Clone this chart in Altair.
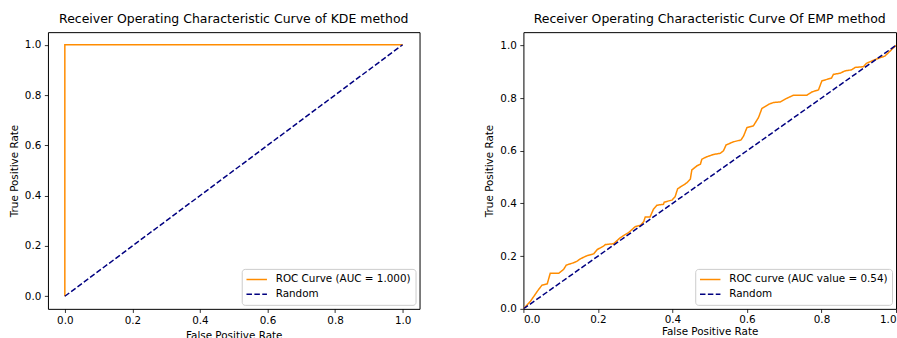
import altair as alt
import pandas as pd

# ---- data ----
kde_fpr = [0.0, 0.0, 1.0]
kde_tpr = [0.0, 1.0, 1.0]
rand_fpr = [0.0, 1.0]
rand_tpr = [0.0, 1.0]

emp_fpr = [0.0, 0.019, 0.041, 0.050, 0.064, 0.072, 0.095, 0.108, 0.115, 0.135, 0.144, 0.153,
           0.171, 0.189, 0.198, 0.215, 0.220, 0.242, 0.260, 0.269, 0.282, 0.300, 0.314, 0.323,
           0.327, 0.340, 0.349, 0.358, 0.376, 0.378, 0.399, 0.407, 0.414, 0.430, 0.439, 0.448,
           0.452, 0.466, 0.475, 0.479, 0.492, 0.510, 0.528, 0.537, 0.544, 0.564, 0.584, 0.591,
           0.600, 0.617, 0.631, 0.640, 0.658, 0.671, 0.689, 0.707, 0.725, 0.761, 0.774, 0.792,
           0.801, 0.827, 0.832, 0.850, 0.863, 0.881, 0.890, 0.913, 0.921, 0.939, 0.957, 0.970,
           0.984, 1.0]
emp_tpr = [0.0, 0.029, 0.074, 0.090, 0.095, 0.135, 0.135, 0.150, 0.166, 0.175, 0.181, 0.190,
           0.202, 0.209, 0.225, 0.238, 0.244, 0.247, 0.270, 0.278, 0.289, 0.312, 0.317, 0.331,
           0.349, 0.349, 0.378, 0.393, 0.397, 0.405, 0.413, 0.425, 0.456, 0.470, 0.479, 0.492,
           0.527, 0.543, 0.549, 0.568, 0.577, 0.586, 0.590, 0.600, 0.622, 0.634, 0.641, 0.656,
           0.688, 0.694, 0.726, 0.760, 0.776, 0.783, 0.785, 0.799, 0.811, 0.811, 0.823, 0.831,
           0.865, 0.876, 0.890, 0.894, 0.903, 0.907, 0.916, 0.919, 0.932, 0.943, 0.953, 0.959,
           0.978, 1.0]

kde_label = "ROC Curve (AUC = 1.000)"
emp_label = "ROC curve (AUC value = 0.54)"
rand_label = "Random"
tick_values = [0.0, 0.2, 0.4, 0.6, 0.8, 1.0]

kde_title = "Receiver Operating Characteristic Curve of KDE method"
emp_title = "Receiver Operating Characteristic Curve Of EMP method"

FONT = "DejaVu Sans"
FS = 10.4


def make_df(fpr, tpr, label):
    rows = []
    for i, (a, b) in enumerate(zip(fpr, tpr)):
        rows.append({"x": a, "y": b, "series": label, "order": i})
    for i, (a, b) in enumerate(zip(rand_fpr, rand_tpr)):
        rows.append({"x": a, "y": b, "series": rand_label, "order": i})
    return pd.DataFrame(rows)


def legend():
    return alt.Legend(
        title=None, orient="bottom-right", offset=4.5, padding=4,
        strokeColor="#cccccc", fillColor="rgba(255,255,255,0.8)", cornerRadius=3,
        symbolType="stroke", symbolSize=420, symbolStrokeWidth=1.5,
        labelFont=FONT, labelFontSize=FS, labelColor="black", labelLimit=400,
        labelOffset=8, rowPadding=2, clipHeight=13,
    )


def panel(df, roc_label, title, xdom, ydom, w, h, right):
    dom = [roc_label, rand_label]
    return alt.Chart(df).mark_line(strokeWidth=1.5, clip=True).encode(
        x=alt.X("x:Q", scale=alt.Scale(domain=xdom, nice=False, zero=False),
                axis=alt.Axis(values=tick_values, format=".1f", title="False Positive Rate",
                              labelFlush=right,
                              labelPadding=2 if right else 3.5,
                              titlePadding=2 if right else 4.5)),
        y=alt.Y("y:Q", scale=alt.Scale(domain=ydom, nice=False, zero=False),
                axis=alt.Axis(values=tick_values, format=".1f", title="True Positive Rate")),
        color=alt.Color("series:N", scale=alt.Scale(domain=dom, range=["#ff8c00", "#000080"]),
                        legend=legend()),
        strokeDash=alt.StrokeDash("series:N", scale=alt.Scale(domain=dom, range=[[1, 0], [5.5, 2.4]]),
                                  legend=legend()),
        order=alt.Order("order:Q"),
    ).properties(
        width=w, height=h,
        title=alt.TitleParams(title, font=FONT, fontSize=12.5, fontWeight="normal",
                              color="black", offset=6.5, anchor="middle"),
    )


left = panel(make_df(kde_fpr, kde_tpr, kde_label), kde_label, kde_title,
             [-0.05, 1.05], [-0.05, 1.05], 372, 277, False)
right = panel(make_df(emp_fpr, emp_tpr, emp_label), emp_label, emp_title,
              [0.0, 1.0], [0.0, 1.05], 373, 277, True)

chart = alt.hconcat(left, right, spacing=104, bounds="flush").resolve_scale(
    color="independent", strokeDash="independent"
).resolve_legend(
    color="independent", strokeDash="independent"
).properties(
    padding={"left": 8, "top": 12, "right": 0, "bottom": 0},
    background="white",
).configure_axis(
    grid=False, domain=False, tickColor="black", tickSize=3.6, tickWidth=0.8,
    labelFont=FONT, labelFontSize=FS, labelColor="black", labelPadding=3.5,
    titleFont=FONT, titleFontSize=FS, titleColor="black", titleFontWeight="normal",
    titlePadding=5,
).configure_view(
    stroke="black", strokeWidth=1,
)

chart.save("out.html", embed_options={"renderer": "svg", "actions": False})
